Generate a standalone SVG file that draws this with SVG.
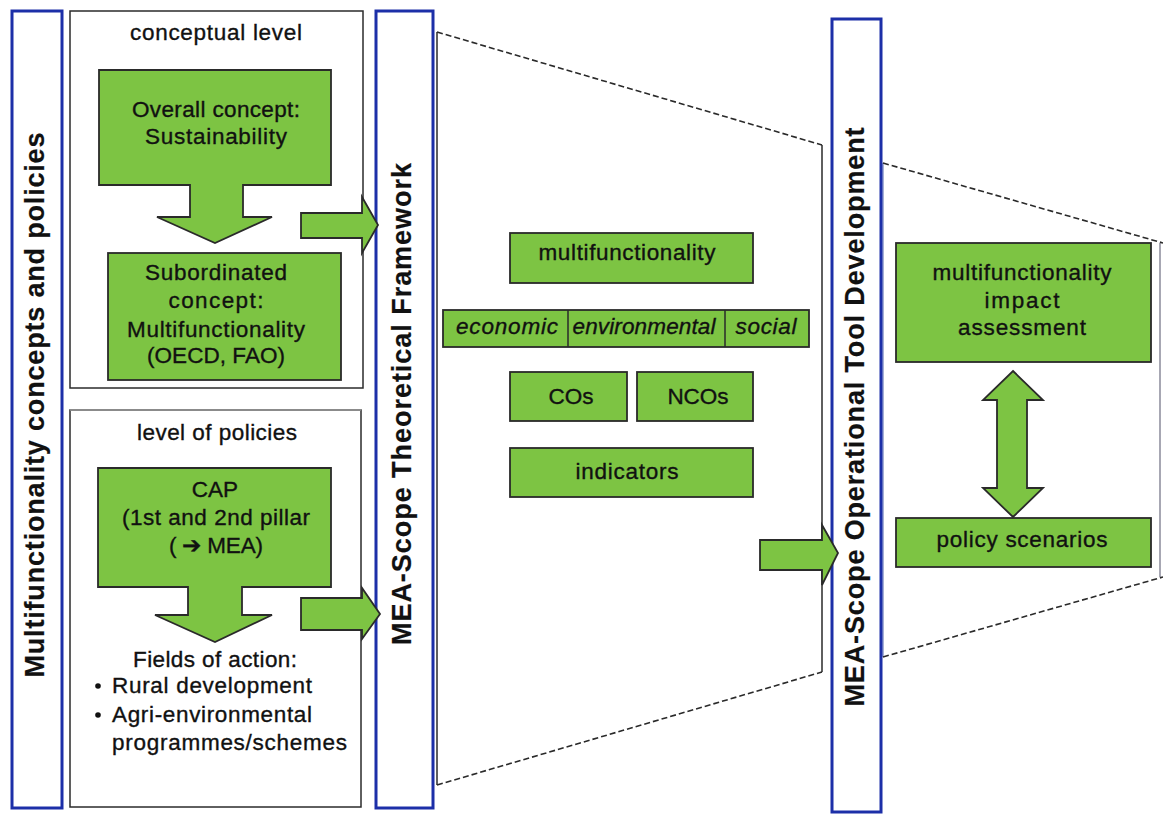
<svg xmlns="http://www.w3.org/2000/svg" width="1163" height="815" viewBox="0 0 1163 815">
<style>
.bar{fill:#ffffff;stroke:#1c2fa8;stroke-width:3}
.box{fill:#ffffff;stroke:#2b2b2b;stroke-width:1.5}
.g{fill:#7dc443;stroke:#2a2a2a;stroke-width:1.8}
.ln{stroke:#2a2a2a;stroke-width:1.5;fill:none}
.dash{stroke:#2a2a2a;stroke-width:1.6;fill:none;stroke-dasharray:6 3}
text{font-family:"Liberation Sans",Arial,Helvetica,sans-serif;fill:#111;stroke:#111;stroke-width:0.35}
.t{font-size:22.5px;text-anchor:middle}
.tl{font-size:22.5px}
.i{font-size:22.5px;text-anchor:middle;font-style:italic}
.v{font-size:27px;font-weight:bold;text-anchor:middle;stroke-width:0.2}
</style>

<g id="lines">
  <line class="ln" x1="437" y1="32" x2="437" y2="785"/>
  <line class="ln" x1="822" y1="145" x2="822" y2="672"/>
  <line class="dash" x1="437" y1="32" x2="822" y2="145"/>
  <line class="dash" x1="437" y1="785" x2="822" y2="672"/>
  <line x1="883" y1="163" x2="883" y2="657" stroke="#8a97c8" stroke-width="1.5"/>
  <line x1="1160" y1="243" x2="1160" y2="577" stroke="#8a8a9a" stroke-width="1.5"/>
  <line class="dash" x1="883" y1="163" x2="1163" y2="243"/>
  <line class="dash" x1="883" y1="657" x2="1163" y2="577"/>
</g>

<g id="bar-left">
  <rect class="bar" x="12" y="11" width="50" height="797"/>
  <text class="v" transform="translate(44,405) rotate(-90)" textLength="545" lengthAdjust="spacing">Multifunctionality concepts and policies</text>
</g>

<g id="conceptual-level">
  <rect class="box" x="70" y="11" width="293" height="377"/>
  <text class="t" x="216" y="40" textLength="172">conceptual level</text>
</g>

<g id="overall-concept">
  <polygon class="g" points="99,70 331,70 331,185 243,185 243,217 272,217 215,243 157,217 190,217 190,185 99,185"/>
  <text class="t" x="216" y="117" textLength="168">Overall concept:</text>
  <text class="t" x="216" y="144" textLength="142">Sustainability</text>
</g>

<g id="subordinated-concept">
  <rect class="g" x="108" y="253" width="233" height="127"/>
  <text class="t" x="216" y="280" textLength="142">Subordinated</text>
  <text class="t" x="216" y="308" textLength="95">concept:</text>
  <text class="t" x="216" y="337" textLength="178">Multifunctionality</text>
  <text class="t" x="216" y="363" textLength="138">(OECD, FAO)</text>
</g>

<g id="level-of-policies">
  <rect x="70" y="410" width="291" height="397" fill="#ffffff" stroke="#2b2b2b" stroke-width="1.5"/>
  <line x1="70" y1="410" x2="361" y2="410" stroke="#9a9a9a" stroke-width="1.5"/>
  <text class="t" x="217" y="440" textLength="160">level of policies</text>
</g>

<g id="cap">
  <polygon class="g" points="98,468 331,468 331,587 242,587 242,615 272,615 215,642 155,615 188,615 188,587 98,587"/>
  <text class="t" x="215" y="497">CAP</text>
  <text class="t" x="216" y="525" textLength="188">(1st and 2nd pillar</text>
  <text class="t" x="216" y="553" textLength="94">( ➔ MEA)</text>
</g>

<g id="fields-of-action">
  <text class="t" x="215" y="667" textLength="164">Fields of action:</text>
  <circle cx="98" cy="686" r="2.8" fill="#111"/>
  <text class="tl" x="112" y="693" textLength="200">Rural development</text>
  <circle cx="98" cy="715" r="2.8" fill="#111"/>
  <text class="tl" x="112" y="722" textLength="200">Agri-environmental</text>
  <text class="tl" x="112" y="750" textLength="235">programmes/schemes</text>
</g>

<g id="bar-theoretical">
  <rect class="bar" x="376" y="11" width="57" height="797"/>
  <text class="v" transform="translate(411,404) rotate(-90)" textLength="482" lengthAdjust="spacing">MEA-Scope Theoretical Framework</text>
</g>

<g id="multifunctionality">
  <rect class="g" x="510" y="233" width="243" height="50"/>
  <text class="t" x="627" y="260" textLength="177">multifunctionality</text>
</g>

<g id="dimensions">
  <rect class="g" x="443" y="310" width="366" height="37"/>
  <line class="ln" x1="568" y1="310" x2="568" y2="347"/>
  <line class="ln" x1="725" y1="310" x2="725" y2="347"/>
  <text class="i" x="507" y="334" textLength="102">economic</text>
  <text class="i" x="644" y="334" textLength="143">environmental</text>
  <text class="i" x="766" y="334" textLength="61">social</text>
</g>

<g id="cos">
  <rect class="g" x="510" y="372" width="117" height="49"/>
  <text class="t" x="571" y="404">COs</text>
</g>

<g id="ncos">
  <rect class="g" x="637" y="372" width="116" height="49"/>
  <text class="t" x="698" y="404">NCOs</text>
</g>

<g id="indicators">
  <rect class="g" x="510" y="448" width="243" height="49"/>
  <text class="t" x="627" y="479" textLength="103">indicators</text>
</g>

<g id="bar-operational">
  <rect class="bar" x="832" y="19" width="49" height="793"/>
  <text class="v" transform="translate(864,417) rotate(-90)" textLength="579" lengthAdjust="spacing">MEA-Scope Operational Tool Development</text>
</g>

<g id="impact-assessment">
  <rect class="g" x="896" y="243" width="255" height="119"/>
  <text class="t" x="1022" y="280" textLength="179">multifunctionality</text>
  <text class="t" x="1022" y="308" textLength="75">impact</text>
  <text class="t" x="1022" y="335" textLength="128">assessment</text>
</g>

<g id="policy-scenarios">
  <rect class="g" x="896" y="518" width="255" height="49"/>
  <text class="t" x="1022" y="547" textLength="171">policy scenarios</text>
</g>

<g id="connectors">
  <polygon class="g" points="301,213 362,213 362,197 378,225 362,253 362,238 301,238"/>
  <polygon class="g" points="301,598 362,598 362,588 380,614 362,639 362,630 301,630"/>
  <polygon class="g" points="760,540 822,540 822,525 838,553 822,585 822,570 760,570"/>
  <polygon class="g" points="1013,371 1043,400 1027,400 1027,488 1043,488 1013,517 983,488 997,488 997,400 983,400"/>
</g>
</svg>
